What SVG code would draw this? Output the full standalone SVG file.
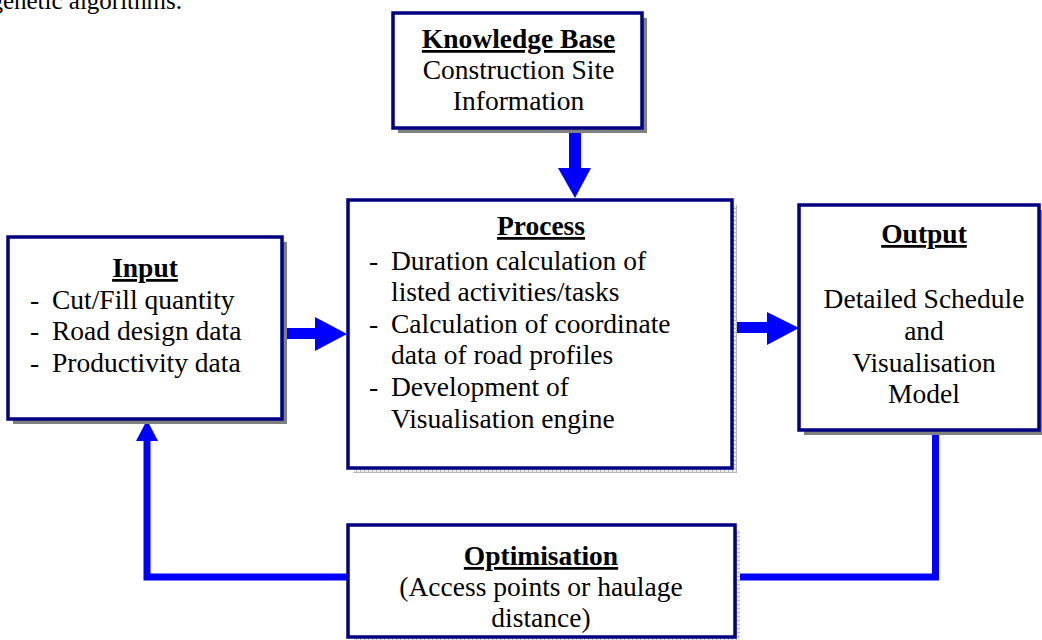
<svg xmlns="http://www.w3.org/2000/svg" width="1042" height="640" viewBox="0 0 1042 640">
<defs>
<pattern id="grid" width="4" height="4" patternUnits="userSpaceOnUse">
<rect width="4" height="4" fill="#ececec"/>
<path d="M0 0.5H4M0.5 0V4" stroke="#b8b8b8" stroke-width="1"/>
</pattern>
<style>
.box{fill:#ffffff;stroke:#000080;stroke-width:3.5}
.sh{fill:#808080}
.shg{fill:url(#grid)}
.t{font-weight:bold;text-decoration:underline;text-anchor:middle}
.c{text-anchor:middle}
.conn{fill:#0000ff;stroke:none}
.line{fill:none;stroke:#0000ff;stroke-width:7}
</style>
</defs>
<rect width="1042" height="640" fill="#ffffff"/>
<g font-family="'Liberation Serif', 'Times New Roman', serif" font-size="27.5" fill="#000000">
<text x="182" y="9" text-anchor="end" font-size="25">genetic algorithms.</text>

<g id="connectors">
<rect class="conn" x="569" y="128" width="12" height="40"/>
<polygon class="conn" points="558,168 591,168 575,198"/>
<rect class="conn" x="282" y="328" width="34" height="11"/>
<polygon class="conn" points="315,317 347,334 315,351"/>
<rect class="conn" x="732" y="322" width="36" height="11"/>
<polygon class="conn" points="767,312 799,328 767,345"/>
<polyline class="line" points="935.5,430 935.5,577 735,577"/>
<polyline class="line" points="348,577 147,577 147,438"/>
<polygon class="conn" points="136,441 158,441 147,420"/>
</g>

<g id="kb">
<rect class="sh" x="398" y="18" width="249" height="115"/>
<rect class="box" x="393" y="13" width="249" height="115"/>
<text class="t" x="518.5" y="48">Knowledge Base</text>
<text class="c" x="518.5" y="79">Construction Site</text>
<text class="c" x="518.5" y="110">Information</text>
</g>

<g id="input">
<rect class="sh" x="13" y="242" width="274" height="182"/>
<rect class="box" x="8" y="237" width="274" height="182"/>
<text class="t" x="145" y="277">Input</text>
<text x="30" y="309">-</text><text x="52" y="309">Cut/Fill quantity</text>
<text x="30" y="340">-</text><text x="52" y="340">Road design data</text>
<text x="30" y="372">-</text><text x="52" y="372">Productivity data</text>
</g>

<g id="process">
<rect class="shg" x="353" y="205" width="384" height="268"/>
<rect class="box" x="348" y="200" width="384" height="268"/>
<text class="t" x="541" y="235">Process</text>
<text x="369" y="270">-</text><text x="391" y="270">Duration calculation of</text>
<text x="391" y="301">listed activities/tasks</text>
<text x="369" y="333">-</text><text x="391" y="333">Calculation of coordinate</text>
<text x="391" y="364">data of road profiles</text>
<text x="369" y="396">-</text><text x="391" y="396">Development of</text>
<text x="391" y="428">Visualisation engine</text>
</g>

<g id="output">
<rect class="sh" x="804" y="210" width="240" height="225"/>
<rect class="box" x="799" y="205" width="240" height="225"/>
<text class="t" x="924" y="243">Output</text>
<text class="c" x="924" y="308">Detailed Schedule</text>
<text class="c" x="924" y="340">and</text>
<text class="c" x="924" y="372">Visualisation</text>
<text class="c" x="924" y="403">Model</text>
</g>

<g id="optimisation">
<rect class="shg" x="353" y="530" width="387" height="112"/>
<rect class="box" x="348" y="525" width="387" height="112"/>
<text class="t" x="541" y="565">Optimisation</text>
<text class="c" x="541" y="596">(Access points or haulage</text>
<text class="c" x="541" y="627">distance)</text>
</g>
</g>
</svg>
